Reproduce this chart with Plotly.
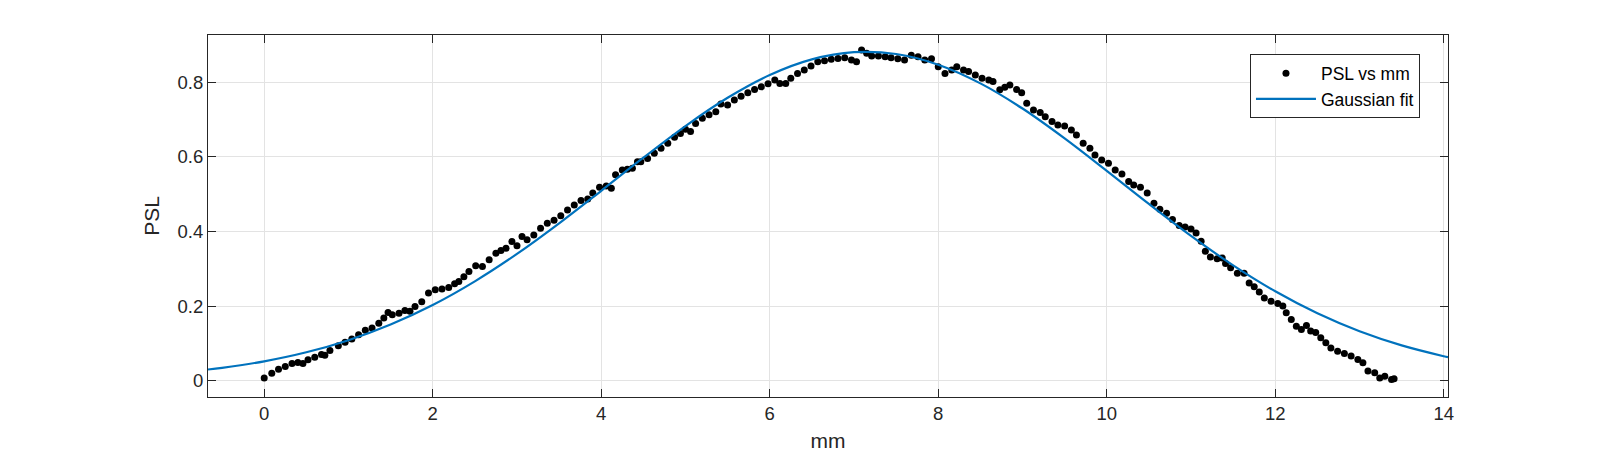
import plotly.graph_objects as go

mm = [0.00, 0.09, 0.17, 0.25, 0.33, 0.40, 0.46, 0.52, 0.60, 0.68, 0.72, 0.78, 0.88, 0.96,
      1.04, 1.12, 1.20, 1.28, 1.36, 1.42, 1.47, 1.52, 1.60, 1.67, 1.73, 1.79, 1.87, 1.95,
      2.03, 2.11, 2.19, 2.26, 2.31, 2.37, 2.43, 2.51, 2.59, 2.67, 2.75, 2.81, 2.87, 2.94,
      3.00, 3.06, 3.12, 3.20, 3.28, 3.36, 3.44, 3.52, 3.60, 3.68, 3.76, 3.84, 3.90, 3.98,
      4.06, 4.12, 4.17, 4.25, 4.31, 4.37, 4.43, 4.47, 4.55, 4.63, 4.71, 4.79, 4.87, 4.94,
      5.00, 5.06, 5.12, 5.20, 5.28, 5.36, 5.42, 5.50, 5.58, 5.66, 5.74, 5.82, 5.90, 5.98,
      6.06, 6.12, 6.19, 6.25, 6.33, 6.41, 6.49, 6.57, 6.65, 6.73, 6.81, 6.89, 6.97, 7.03,
      7.09, 7.15, 7.21, 7.29, 7.37, 7.44, 7.52, 7.60, 7.68, 7.76, 7.84, 7.92, 8.00, 8.08,
      8.16, 8.22, 8.30, 8.36, 8.44, 8.52, 8.60, 8.65, 8.73, 8.79, 8.85, 8.93, 8.99, 9.05,
      9.13, 9.21, 9.27, 9.35, 9.42, 9.50, 9.58, 9.64, 9.72, 9.80, 9.86, 9.94, 10.02, 10.10,
      10.18, 10.26, 10.32, 10.40, 10.48, 10.56, 10.63, 10.71, 10.78, 10.86, 10.93, 11.00,
      11.06, 11.12, 11.17, 11.23, 11.31, 11.37, 11.41, 11.47, 11.55, 11.63, 11.69, 11.75,
      11.81, 11.87, 11.95, 12.03, 12.09, 12.13, 12.19, 12.25, 12.31, 12.37, 12.42, 12.48,
      12.54, 12.60, 12.66, 12.74, 12.82, 12.90, 12.98, 13.04, 13.10, 13.18, 13.24, 13.30,
      13.38, 13.41]
psl = [0.007, 0.020, 0.031, 0.038, 0.046, 0.049, 0.046, 0.056, 0.063, 0.070, 0.068, 0.081, 0.094, 0.103,
       0.112, 0.123, 0.135, 0.141, 0.154, 0.168, 0.183, 0.177, 0.181, 0.188, 0.186, 0.199, 0.212, 0.235,
       0.244, 0.246, 0.250, 0.260, 0.266, 0.279, 0.293, 0.308, 0.306, 0.324, 0.342, 0.349, 0.355, 0.373,
       0.362, 0.387, 0.378, 0.391, 0.409, 0.422, 0.430, 0.442, 0.458, 0.471, 0.483, 0.487, 0.503, 0.519,
       0.522, 0.516, 0.552, 0.565, 0.567, 0.570, 0.587, 0.587, 0.596, 0.610, 0.623, 0.637, 0.653, 0.663,
       0.674, 0.668, 0.690, 0.704, 0.713, 0.721, 0.742, 0.739, 0.753, 0.763, 0.772, 0.781, 0.788, 0.796,
       0.806, 0.797, 0.797, 0.811, 0.824, 0.833, 0.844, 0.855, 0.858, 0.862, 0.864, 0.866, 0.860, 0.855,
       0.887, 0.878, 0.871, 0.871, 0.869, 0.866, 0.863, 0.860, 0.873, 0.869, 0.860, 0.863, 0.842, 0.824,
       0.833, 0.842, 0.833, 0.829, 0.820, 0.811, 0.806, 0.802, 0.780, 0.787, 0.793, 0.781, 0.772, 0.744,
       0.726, 0.719, 0.708, 0.695, 0.686, 0.683, 0.672, 0.659, 0.637, 0.623, 0.605, 0.592, 0.583, 0.565,
       0.554, 0.534, 0.525, 0.519, 0.503, 0.476, 0.460, 0.449, 0.432, 0.416, 0.412, 0.407,
       0.396, 0.374, 0.347, 0.332, 0.327, 0.329, 0.314, 0.303, 0.288, 0.288, 0.262, 0.252,
       0.238, 0.222, 0.213, 0.207, 0.200, 0.182, 0.164, 0.146, 0.137, 0.148, 0.133, 0.129,
       0.115, 0.102, 0.088, 0.079, 0.073, 0.066, 0.057, 0.048, 0.026, 0.021, 0.007, 0.012,
       0.003, 0.005]

# Gaussian fit curve
fit_mm = [-0.667, -0.5, 0.0, 0.5, 1.0, 1.5, 2.0, 2.5, 3.0, 3.5, 4.0, 4.5, 5.0, 5.5, 6.0, 6.5,
          7.0, 7.5, 8.0, 8.5, 9.0, 9.5, 10.0, 10.5, 11.0, 11.5, 12.0, 12.5, 13.0, 13.5, 14.0, 14.05]
fit_psl = [0.030, 0.0345, 0.052, 0.0762, 0.1087, 0.1507, 0.2030, 0.2665, 0.3399, 0.4219, 0.5093,
           0.5979, 0.6829, 0.7586, 0.8197, 0.8616, 0.8809, 0.8760, 0.8474, 0.7973, 0.7298, 0.6497,
           0.5626, 0.4739, 0.3883, 0.3094, 0.2398, 0.1808, 0.1327, 0.0947, 0.0656, 0.0631]

x_ticks = [0, 2, 4, 6, 8, 10, 12, 14]
y_ticks = [0, 0.2, 0.4, 0.6, 0.8]

FONT = "Liberation Sans, Arial, Helvetica, sans-serif"
AXC = "#262626"

fig = go.Figure()
fig.add_trace(go.Scatter(x=mm, y=psl, mode="markers", name="PSL vs mm",
                         marker=dict(color="black", size=7, line=dict(width=0))))
fig.add_trace(go.Scatter(x=fit_mm, y=fit_psl, mode="lines", name="Gaussian fit",
                         line=dict(color="#0072BD", width=2.2, shape="spline")))

axis_common = dict(showline=True, linecolor=AXC, linewidth=1, mirror="ticks",
                   ticks="inside", ticklen=8, tickcolor=AXC, tickwidth=1,
                   showgrid=True, gridcolor="#e3e3e3", gridwidth=1, zeroline=False,
                   automargin=False,
                   tickfont=dict(family=FONT, size=18.5, color=AXC))

fig.update_xaxes(range=[-0.667, 14.05], tickvals=x_ticks,
                 title=dict(text="mm", font=dict(family=FONT, size=21, color=AXC), standoff=10),
                 **axis_common)
fig.update_yaxes(range=[-0.0437, 0.927], tickvals=y_ticks,
                 title=dict(text="PSL", font=dict(family=FONT, size=21, color=AXC), standoff=12),
                 **axis_common)

fig.update_layout(
    width=1600, height=458,
    margin=dict(l=200, r=160, t=27, b=69),
    plot_bgcolor="white", paper_bgcolor="white",
    font=dict(family=FONT, color=AXC),
    legend=dict(x=0.8403, y=0.9467, xanchor="left", yanchor="top",
                bgcolor="white", bordercolor=AXC, borderwidth=1,
                font=dict(family=FONT, size=17.5, color="black"),
                itemwidth=60, tracegroupgap=0),
    showlegend=True,
)

fig.write_html("out.html")
